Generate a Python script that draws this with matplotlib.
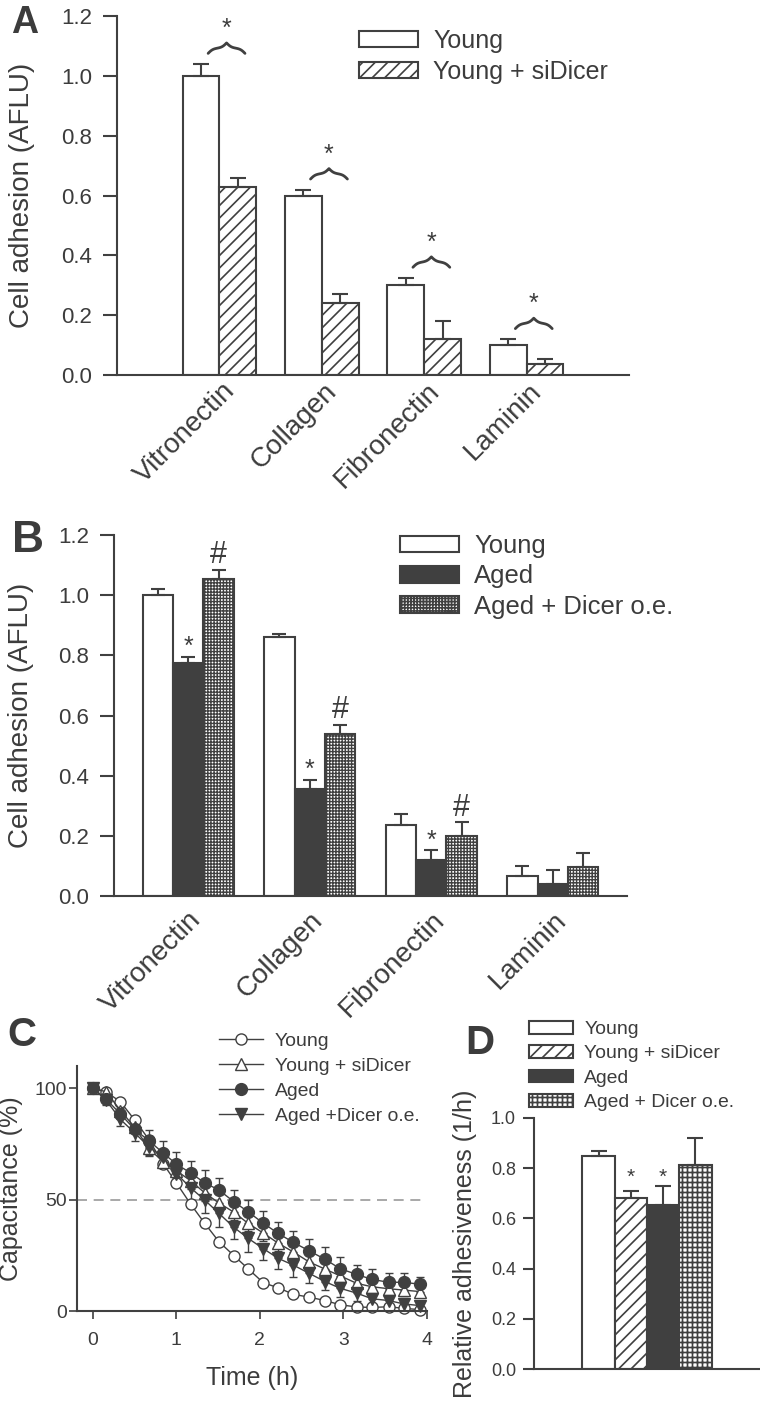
import numpy as np
import matplotlib
matplotlib.use('Agg')
import matplotlib.pyplot as plt

DARK = '#404040'
TXT = '#3c3c3c'

# sizes below are written as if at 100 dpi; the figure is rendered at 150 dpi
# (finer hatch pitch), so every point size goes through k()
DPI = 150
K = 100.0 / DPI


def k(v):
    return v * K


plt.rcParams['font.family'] = ['Liberation Sans', 'DejaVu Sans']
plt.rcParams['text.color'] = TXT
plt.rcParams['axes.labelcolor'] = TXT
plt.rcParams['axes.edgecolor'] = DARK
plt.rcParams['xtick.color'] = DARK
plt.rcParams['ytick.color'] = DARK
plt.rcParams['xtick.labelcolor'] = TXT
plt.rcParams['ytick.labelcolor'] = TXT
plt.rcParams['axes.linewidth'] = k(1.5)
plt.rcParams['hatch.linewidth'] = k(1.2)
plt.rcParams['hatch.color'] = DARK

# ---- data ----
matrices = ['Vitronectin', 'Collagen', 'Fibronectin', 'Laminin']

# panel A
a_young = [1.00, 0.60, 0.30, 0.10]
a_young_err = [0.04, 0.02, 0.025, 0.02]
a_si = [0.63, 0.24, 0.12, 0.037]
a_si_err = [0.03, 0.03, 0.06, 0.018]
a_sig = ['*', '*', '*', '*']

# panel B
b_young = [1.00, 0.862, 0.235, 0.066]
b_young_err = [0.02, 0.01, 0.037, 0.034]
b_aged = [0.773, 0.355, 0.12, 0.04]
b_aged_err = [0.022, 0.032, 0.032, 0.045]
b_dicer = [1.053, 0.54, 0.20, 0.097]
b_dicer_err = [0.032, 0.03, 0.045, 0.046]
b_aged_sig = ['*', '*', '*', '']
b_dicer_sig = ['#', '#', '#', '']

# panel C (time in h, capacitance in %)
c_time = [0, 0.16, 0.33, 0.5, 0.67, 0.84, 1.0, 1.17, 1.34, 1.51, 1.69, 1.86,
          2.04, 2.22, 2.4, 2.59, 2.78, 2.96, 3.16, 3.34, 3.54, 3.72, 3.92]
c_young = [100, 98.4, 93.9, 85.8, 77, 66.2, 57.5, 48, 39.3, 31.1, 24.8, 18.9,
           12.7, 10.4, 7.5, 6.2, 4.7, 2.8, 1.8, 1.6, 1.9, 1.2, 0.6]
c_young_err = [0, 1, 1, 1.5, 1.5, 1.5, 1.5, 1.5, 1.5, 1.5, 1, 1,
               1, 1, 1, 1, 1, 1, 1, 1, 1, 1, 1]
c_si = [100, 98.4, 90, 82.5, 73, 67, 63, 58.5, 53, 48.5, 44.3, 39.3,
        35, 30.4, 26.5, 22, 18.8, 15.8, 12.4, 10.9, 10, 9.4, 8.7]
c_si_err = [0, 1.5, 2, 2.5, 3, 3, 3, 3.5, 3.5, 3.5, 3.5, 3.5,
            3.5, 3.5, 3, 3, 3, 3, 3, 2.5, 2.5, 2.5, 2.5]
c_aged = [100, 95, 88.5, 81.5, 76.5, 71, 65.9, 62, 57.5, 54.3, 49, 44.5,
          39.4, 34.8, 30.8, 27, 23.2, 19, 16.4, 14.2, 12.9, 12.9, 12.0]
c_aged_err = [0, 1.5, 2.5, 3.5, 4.8, 5.4, 5.6, 5.3, 5.7, 5.2, 5.3, 5.2,
              5.4, 5.2, 5.2, 5.3, 5.6, 5.1, 4.2, 4.5, 4.0, 4.0, 3.1]
c_dicer = [100, 94.6, 86, 80, 73.7, 69, 61.7, 55.3, 49.8, 43.8, 37.5, 32.6,
           28, 23.6, 20.6, 16.9, 13.2, 10.2, 8, 5.5, 4.7, 3.2, 2.4]
c_dicer_err = [0, 2, 3, 3.5, 4, 4.5, 5, 5.5, 6, 6, 5.3, 6,
               5, 4.9, 5.2, 4.2, 3.8, 3.8, 3.7, 3, 2.5, 2, 1.5]

# panel D
d_groups = ['Young', 'Young + siDicer', 'Aged', 'Aged + Dicer o.e.']
d_vals = [0.848, 0.681, 0.653, 0.813]
d_err = [0.021, 0.029, 0.078, 0.107]
d_sig = ['', '*', '*', '']

W, H = 760, 1403
fig = plt.figure(figsize=(W / DPI, H / DPI), dpi=DPI)


def px_axes(l, t, r, b):
    return fig.add_axes([l / W, 1 - b / H, (r - l) / W, (b - t) / H])


def style_bar(b, hatch_lw):
    for p in b.patches:
        if hasattr(p, 'set_hatch_linewidth'):
            p.set_hatch_linewidth(k(hatch_lw))


def brace(ax, x0, x1, y0, h, lw=2.0):
    n = 101
    xs = np.linspace(x0, x1, n)
    xh = xs[:n // 2 + 1]
    beta = 40.0
    yh = 1 / (1 + np.exp(-beta * (xh - xh[0]))) + 1 / (1 + np.exp(-beta * (xh - xh[-1])))
    yh = yh - 0.5
    ys = np.concatenate((yh, yh[-2::-1]))
    ax.plot(xs, y0 + h * ys, color=DARK, lw=k(lw), clip_on=False, solid_capstyle='round')


def spines(ax):
    ax.spines['top'].set_visible(False)
    ax.spines['right'].set_visible(False)


def fig_text(x, y, s, size):
    fig.text(x / W, 1 - y / H, s, fontsize=k(size), fontweight='bold', color=TXT,
             ha='left', va='baseline')


# ---------------- Panel A ----------------
axA = px_axes(117, 16, 629, 375)
xg = np.arange(1, 5)
wA = 0.36
bA1 = axA.bar(xg - wA / 2, a_young, wA, color='white', edgecolor=DARK, lw=k(1.5), label='Young')
bA2 = axA.bar(xg + wA / 2, a_si, wA, color='white', edgecolor=DARK, lw=k(1.5), hatch='////',
              label='Young + siDicer')
style_bar(bA2, 1.2)
for xs, m, e in [(xg - wA / 2, a_young, a_young_err), (xg + wA / 2, a_si, a_si_err)]:
    axA.errorbar(xs, m, yerr=[np.zeros(4), e], fmt='none', ecolor=DARK,
                 elinewidth=k(1.5), capsize=k(6), capthick=k(1.5))
for i in range(4):
    top = max(a_young[i] + a_young_err[i], a_si[i] + a_si_err[i])
    bb = top + 0.035
    brace(axA, xg[i] + 0.07 - 0.18, xg[i] + 0.07 + 0.18, bb, 0.035)
    axA.annotate(a_sig[i], xy=(xg[i] + 0.07, bb + 0.035), xytext=(0, k(5)),
                 textcoords='offset points', ha='center', va='baseline', fontsize=k(18),
                 color=TXT, annotation_clip=False)
axA.set_xlim(0, 5)
axA.set_ylim(0, 1.2)
axA.set_yticks(np.arange(0, 1.21, 0.2))
axA.set_yticklabels(['%.1f' % v for v in np.arange(0, 1.21, 0.2)])
axA.set_xticks(xg + 0.02)
axA.set_xticklabels(matrices, rotation=45, ha='right', rotation_mode='anchor')
axA.tick_params(axis='y', length=k(10), width=k(1.5), pad=k(8), labelsize=k(16))
axA.tick_params(axis='x', length=0, pad=k(2), labelsize=k(20))
axA.set_ylabel('Cell adhesion (AFLU)', fontsize=k(20))
axA.yaxis.set_label_coords(-0.16, 0.5)
spines(axA)
axA.legend(loc='upper left', bbox_to_anchor=(359 / W, 1 - 29 / H), bbox_transform=fig.transFigure,
           frameon=False, fontsize=k(18), handlelength=2.36, handleheight=0.64, handletextpad=0.6,
           labelspacing=0.27, borderpad=0, borderaxespad=0)
fig_text(11, 33, 'A', 27)

# ---------------- Panel B ----------------
axB = px_axes(114, 535, 627, 896)
wB = 0.25
bB1 = axB.bar(xg - wB, b_young, wB, color='white', edgecolor=DARK, lw=k(1.5), label='Young')
bB2 = axB.bar(xg, b_aged, wB, color=DARK, edgecolor=DARK, lw=k(1.5), label='Aged')
bB3 = axB.bar(xg + wB, b_dicer, wB, color='white', edgecolor=DARK, lw=k(1.5), hatch='++++++++',
              label='Aged + Dicer o.e.')
style_bar(bB3, 1.0)
for xs, m, e in [(xg - wB, b_young, b_young_err), (xg, b_aged, b_aged_err),
                 (xg + wB, b_dicer, b_dicer_err)]:
    axB.errorbar(xs, m, yerr=[np.zeros(4), e], fmt='none', ecolor=DARK, elinewidth=k(1.5),
                 capsize=k(5), capthick=k(1.5))
for i in range(4):
    if b_aged_sig[i]:
        axB.annotate(b_aged_sig[i], xy=(xg[i], b_aged[i] + b_aged_err[i]), xytext=(0, k(2)),
                     textcoords='offset points', ha='center', va='baseline', fontsize=k(18))
    if b_dicer_sig[i]:
        axB.annotate(b_dicer_sig[i], xy=(xg[i] + wB, b_dicer[i] + b_dicer_err[i]),
                     xytext=(0, k(4.5)), textcoords='offset points', ha='center', va='baseline',
                     fontsize=k(22))
axB.set_xlim(0.39, 4.61)
axB.set_ylim(0, 1.2)
axB.set_yticks(np.arange(0, 1.21, 0.2))
axB.set_yticklabels(['%.1f' % v for v in np.arange(0, 1.21, 0.2)])
axB.set_xticks(xg)
axB.set_xticklabels(matrices, rotation=45, ha='right', rotation_mode='anchor')
axB.tick_params(axis='y', length=k(10), width=k(1.5), pad=k(8), labelsize=k(16))
axB.tick_params(axis='x', length=0, pad=k(8), labelsize=k(20))
axB.set_ylabel('Cell adhesion (AFLU)', fontsize=k(20))
axB.yaxis.set_label_coords(-0.156, 0.5)
spines(axB)
axB.legend(loc='upper left', bbox_to_anchor=(400 / W, 1 - 534 / H), bbox_transform=fig.transFigure,
           frameon=False, fontsize=k(18.5), handlelength=2.3, handleheight=0.62, handletextpad=0.58,
           labelspacing=0.25, borderpad=0, borderaxespad=0)
fig_text(12, 552, 'B', 32)

# ---------------- Panel C ----------------
axC = px_axes(77, 1066, 427, 1311)
axC.axhline(50, color='#9a9a9a', lw=k(1.2), ls=(0, (6, 4)), zorder=1)
z = np.zeros(len(c_time))
series = [
    (c_young, [c_young_err, c_young_err], 'o', 'white', 8, 'Young'),
    (c_si, [c_si_err, z], '^', 'white', 8.5, 'Young + siDicer'),
    (c_dicer, [c_dicer_err, z], 'v', DARK, 9, 'Aged +Dicer o.e.'),
    (c_aged, [z, c_aged_err], 'o', DARK, 8.5, 'Aged'),
]
handles = {}
for vals, err, mk, fc, ms, lab in series:
    cont = axC.errorbar(c_time, vals, yerr=err, fmt='-' + mk, color=DARK, mfc=fc, mec=DARK,
                        mew=k(1.0), ms=k(ms), lw=k(1.0), elinewidth=k(1.0), capsize=k(3),
                        capthick=k(1.0), ecolor=DARK, clip_on=False)
    handles[lab] = cont[0]
order = ['Young', 'Young + siDicer', 'Aged', 'Aged +Dicer o.e.']
axC.legend([handles[n] for n in order], order, loc='upper left',
           bbox_to_anchor=(219 / W, 1 - 1032 / H), bbox_transform=fig.transFigure,
           frameon=False, fontsize=k(14), handlelength=2.27, handletextpad=0.6,
           labelspacing=0.39, borderpad=0, borderaxespad=0)
axC.set_xlim(-0.19, 4.0)
axC.set_ylim(0, 110)
axC.set_xticks([0, 1, 2, 3, 4])
axC.set_yticks([0, 50, 100])
axC.tick_params(axis='y', length=k(6), width=k(1.2), pad=k(1), labelsize=k(14))
axC.tick_params(axis='x', length=k(6), width=k(1.2), pad=k(9), labelsize=k(14))
axC.set_xlabel('Time (h)', fontsize=k(18))
axC.xaxis.set_label_coords(0.5, -0.224)
axC.set_ylabel('Capacitance (%)', fontsize=k(18))
axC.yaxis.set_label_coords(-0.154, 0.5)
spines(axC)
fig_text(7, 1046, 'C', 29)

# ---------------- Panel D ----------------
axD = px_axes(534, 1118, 760, 1369)
xd = np.arange(1, 5)
d_face = ['white', 'white', DARK, 'white']
d_hatch = [None, '////', None, '+++++']
for i in range(4):
    b = axD.bar(xd[i], d_vals[i], 1.0, color=d_face[i], edgecolor=DARK, lw=k(1.5),
                hatch=d_hatch[i], label=d_groups[i])
    style_bar(b, 1.2)
axD.errorbar(xd, d_vals, yerr=[np.zeros(4), d_err], fmt='none', ecolor=DARK, elinewidth=k(1.5),
             capsize=k(6), capthick=k(1.5))
star_y = max(d_vals[i] + d_err[i] for i in range(4) if d_sig[i])
for i in range(4):
    if d_sig[i]:
        axD.annotate(d_sig[i], xy=(xd[i], star_y), xytext=(0, k(2)), textcoords='offset points',
                     ha='center', va='baseline', fontsize=k(15))
axD.set_xlim(-1, 6)
axD.set_ylim(0, 1.0)
axD.set_yticks(np.arange(0, 1.01, 0.2))
axD.set_yticklabels(['%.1f' % v for v in np.arange(0, 1.01, 0.2)])
axD.set_xticks([])
axD.tick_params(axis='y', length=k(8), width=k(1.5), pad=k(5), labelsize=k(13))
axD.set_ylabel('Relative adhesiveness (1/h)', fontsize=k(18))
axD.yaxis.set_label_coords(-0.252, 0.5)
spines(axD)
axD.legend(loc='upper left', bbox_to_anchor=(529 / W, 1 - 1021 / H), bbox_transform=fig.transFigure,
           frameon=False, fontsize=k(14), handlelength=2.27, handleheight=0.62, handletextpad=0.57,
           labelspacing=0.37, borderpad=0, borderaxespad=0)
fig_text(465, 1054, 'D', 29)

fig.savefig('out.png', dpi=DPI)
